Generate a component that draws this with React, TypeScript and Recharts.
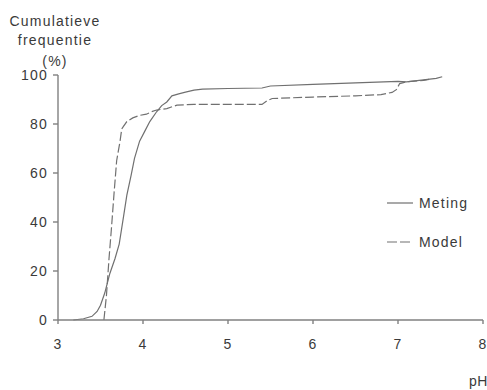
import { LineChart, Line, XAxis, YAxis } from "recharts";

const metingPH = [3.18, 3.3, 3.4, 3.46, 3.5, 3.55, 3.61, 3.67, 3.72, 3.77, 3.81, 3.86, 3.9, 3.96, 4.02, 4.08, 4.16, 4.22, 4.28, 4.34, 4.42, 4.5, 4.6, 4.7, 5.0, 5.4, 5.5, 6.0, 6.5, 7.0, 7.1, 7.3, 7.45, 7.52];
const metingPct = [0, 0.5, 1.5, 3.5, 6, 11, 19, 25, 31, 42, 51, 59, 66, 73, 77, 81, 85, 87.5, 89, 91.5, 92.3, 93, 93.8, 94.2, 94.5, 94.7, 95.5, 96.2, 96.8, 97.4, 97.2, 98, 98.6, 99.3];

const modelPH = [3.54, 3.57, 3.6, 3.63, 3.66, 3.69, 3.73, 3.75, 3.77, 3.81, 3.88, 3.96, 4.04, 4.1, 4.16, 4.28, 4.4, 4.6, 5.0, 5.4, 5.46, 5.52, 6.0, 6.5, 6.8, 6.93, 6.98, 7.02, 7.1, 7.3, 7.4];
const modelPct = [0, 10, 25, 38, 52, 65, 73, 78, 79, 81, 82.5, 83.5, 84, 85, 85.7, 86.3, 87.7, 88, 88, 88, 89.5, 90.4, 91, 91.5, 92, 92.9, 94, 96.5, 97.2, 97.8, 98.4];

const xTicks = [3, 4, 5, 6, 7, 8];
const yTicks = [0, 20, 40, 60, 80, 100];
const titleLines = ["Cumulatieve", "frequentie", "(%)"];
const legendItems = [
  { name: "Meting", dash: undefined },
  { name: "Model", dash: "10 3" },
];

const metingData = metingPH.map((x, i) => ({ x, y: metingPct[i] }));
const modelData = modelPH.map((x, i) => ({ x, y: modelPct[i] }));

const font = "'Liberation Sans', Arial, sans-serif";
const textColor = "#3a3a3a";
const axisColor = "#808080";
const lineColor = "#707070";

const tickStyle = { fontSize: 14, fill: textColor, fontFamily: font, letterSpacing: 1.2 };

const textBase = {
  position: "absolute" as const,
  fontFamily: font,
  fontSize: 14,
  lineHeight: "14px",
  letterSpacing: 1.2,
  color: textColor,
};

export default function App() {
  return (
    <div style={{ position: "absolute", left: 0, top: 0, width: 487, height: 390, background: "#fff" }}>
      <LineChart width={487} height={390} data={metingData} margin={{ top: 75, right: 4, bottom: 40, left: 13 }}>
        <XAxis
          dataKey="x"
          type="number"
          domain={[3, 8]}
          ticks={xTicks}
          stroke={axisColor}
          strokeWidth={1.4}
          tickSize={4}
          tickMargin={15}
          tick={tickStyle}
          height={30}
          allowDataOverflow
        />
        <YAxis
          type="number"
          domain={[0, 100]}
          ticks={yTicks}
          stroke={axisColor}
          strokeWidth={1.4}
          tickSize={5}
          tickMargin={5}
          tick={tickStyle}
          width={45}
        />
        <Line
          data={metingData}
          dataKey="y"
          type="linear"
          stroke={lineColor}
          strokeWidth={1.2}
          dot={false}
          isAnimationActive={false}
          name="Meting"
        />
        <Line
          data={modelData}
          dataKey="y"
          type="linear"
          stroke={lineColor}
          strokeWidth={1.2}
          strokeDasharray="9 3"
          dot={false}
          isAnimationActive={false}
          name="Model"
        />
      </LineChart>
      {titleLines.map((t, i) => (
        <div key={t} style={{ ...textBase, left: 0, width: 110, top: [14, 33, 54][i], textAlign: "center" }}>
          {t}
        </div>
      ))}
      <div style={{ ...textBase, left: 469, top: 374, letterSpacing: 0.5 }}>pH</div>
      {legendItems.map((item, i) => (
        <div key={item.name} style={{ ...textBase, left: 385, top: 193 + i * 39, display: "flex", alignItems: "center", height: 20 }}>
          <svg width={34} height={20}>
            <line x1={2} y1={10} x2={28} y2={10} stroke={lineColor} strokeWidth={1.2} strokeDasharray={item.dash} />
          </svg>
          <span>{item.name}</span>
        </div>
      ))}
    </div>
  );
}
